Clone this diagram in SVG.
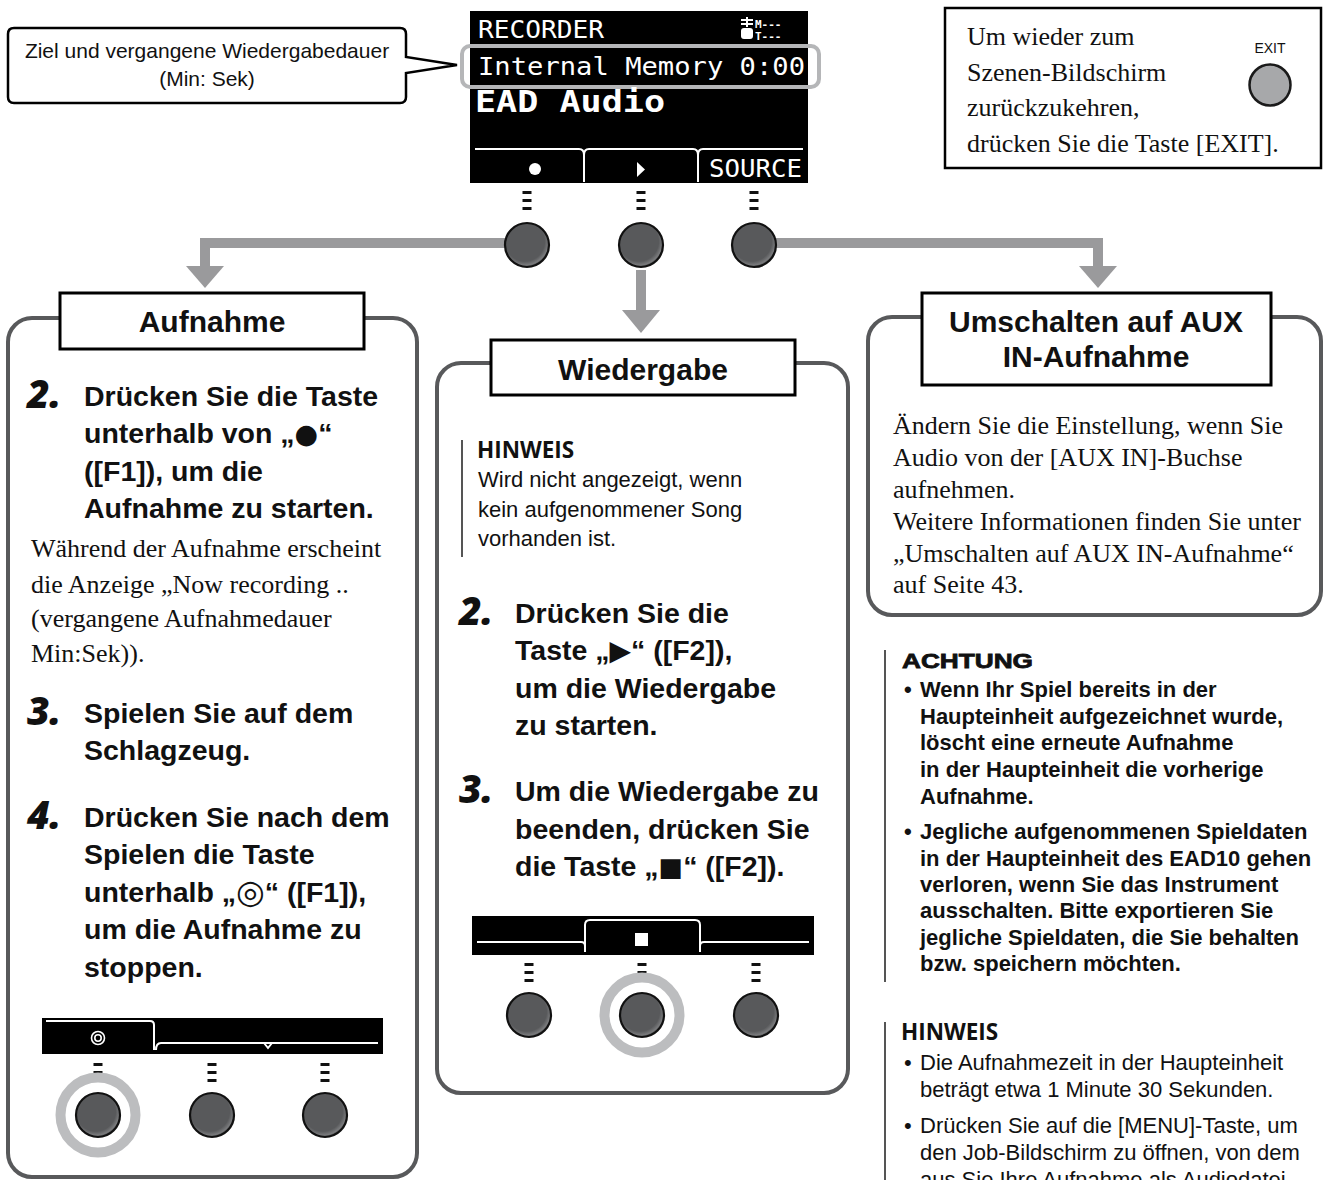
<svg xmlns="http://www.w3.org/2000/svg" xmlns:xlink="http://www.w3.org/1999/xlink" width="1325" height="1180" viewBox="0 0 1325 1180">
<defs>
<style>
.sans{font-family:"Liberation Sans",Arial,"DejaVu Sans",sans-serif;}
.serif{font-family:"Liberation Serif","Times New Roman",serif;font-size:26px;fill:#111;}
.head{font-family:"Liberation Sans",Arial,"DejaVu Sans",sans-serif;font-weight:bold;font-size:28.5px;fill:#111;}
.sym{font-family:"DejaVu Sans",sans-serif;}
.num{font-family:"Open Sans","Liberation Sans",sans-serif;font-weight:800;font-style:italic;font-size:39px;fill:#111;}
.title{font-family:"Liberation Sans",Arial,sans-serif;font-weight:bold;font-size:30px;fill:#111;text-anchor:middle;}
.note{font-family:"Liberation Sans",Arial,sans-serif;font-size:22px;fill:#111;}
.bnote{font-family:"Liberation Sans",Arial,sans-serif;font-size:22px;font-weight:bold;fill:#111;}
.hinw{font-family:"Open Sans","Liberation Sans",sans-serif;font-weight:bold;font-size:22.5px;fill:#111;}
.mono{font-family:"DejaVu Sans Mono","Liberation Mono",monospace;fill:#fff;}
.panel{fill:#fff;stroke:#58595b;stroke-width:4;}
.tbox{fill:#fff;stroke:#000;stroke-width:3;}
.conn{fill:none;stroke:#9a9a9c;stroke-width:10;}
.head-arrow{fill:#9a9a9c;}
.ring{fill:none;stroke:#bcbdbf;stroke-width:10;}
.bar{stroke:#555;stroke-width:2;}
.wl{fill:none;stroke:#fff;stroke-width:2;}
</style>
<radialGradient id="bg" cx="0.45" cy="0.42" r="0.6">
<stop offset="0.75" stop-color="#58595b"/>
<stop offset="0.9" stop-color="#7a7b7d"/>
<stop offset="1" stop-color="#2a2a2a"/>
</radialGradient>
<g id="btn">
<circle r="22" fill="url(#bg)" stroke="#111" stroke-width="2.2"/>
</g>
<g id="tick" fill="#111">
<rect x="-4.5" y="0" width="9" height="3"/>
<rect x="-4.5" y="8" width="9" height="3"/>
<rect x="-4.5" y="16" width="9" height="3"/>
</g>
</defs>
<rect width="1325" height="1180" fill="#fff"/>

<!-- connectors -->
<g id="connectors">
<polyline class="conn" points="505,243 205,243 205,270"/>
<polygon class="head-arrow" points="186,266 224,266 205,288"/>
<line class="conn" x1="641" y1="270" x2="641" y2="313"/>
<polygon class="head-arrow" points="622,310 660,310 641,333"/>
<polyline class="conn" points="776,243 1098,243 1098,270"/>
<polygon class="head-arrow" points="1079,266 1117,266 1098,288"/>
</g>

<!-- callout -->
<g id="callout">
<path d="M14,28 H400 Q406,28 406,34 V57 L457,65 L406,73 V97 Q406,103 400,103 H14 Q8,103 8,97 V34 Q8,28 14,28 Z" fill="#fff" stroke="#000" stroke-width="2.5"/>
<text class="sans" x="207" y="58" font-size="21" text-anchor="middle" fill="#111">Ziel und vergangene Wiedergabedauer</text>
<text class="sans" x="207" y="86" font-size="21" text-anchor="middle" fill="#111">(Min: Sek)</text>
</g>

<!-- main screen -->
<g id="screen">
<rect x="470" y="11" width="338" height="172" fill="#000"/>
<text class="mono" x="478" y="38" font-size="24" textLength="126" lengthAdjust="spacingAndGlyphs">RECORDER</text>
<g fill="#fff">
<rect x="741" y="19" width="12" height="2"/>
<rect x="741" y="23" width="12" height="2"/>
<rect x="746" y="17" width="2" height="10"/>
<rect x="741" y="28" width="12" height="11" rx="3"/>
</g>
<text class="mono" x="755" y="28" font-size="11" font-weight="bold">M---</text>
<text class="mono" x="755" y="40" font-size="11" font-weight="bold">T---</text>
<text class="mono" x="478" y="75" font-size="25" textLength="327" lengthAdjust="spacingAndGlyphs">Internal Memory 0:00</text>
<rect x="462" y="46" width="357" height="41" rx="8" fill="none" stroke="#b5b6b8" stroke-width="4"/>
<text class="mono" x="475" y="112" font-size="31" font-weight="bold" textLength="190" lengthAdjust="spacingAndGlyphs">EAD Audio</text>
<path class="wl" d="M475,149 H579 Q584,149 584,155 V182 M584,155 Q584,149 589,149 H693 Q698,149 698,155 V182 M698,155 Q698,149 703,149 H803"/>
<circle cx="535" cy="169" r="6" fill="#fff"/>
<polygon points="637,162 645,169.5 637,177" fill="#fff"/>
<text class="mono" x="709" y="177" font-size="25" textLength="93" lengthAdjust="spacingAndGlyphs">SOURCE</text>
</g>

<!-- main buttons -->
<g id="buttons">
<use xlink:href="#tick" x="527" y="191"/>
<use xlink:href="#tick" x="641" y="191"/>
<use xlink:href="#tick" x="754" y="191"/>
<use xlink:href="#btn" x="527" y="245"/>
<use xlink:href="#btn" x="641" y="245"/>
<use xlink:href="#btn" x="754" y="245"/>
</g>

<!-- exit box -->
<g id="exitbox">
<rect x="945" y="8" width="376" height="160" fill="#fff" stroke="#000" stroke-width="2.5"/>
<text class="serif" x="967" y="45">Um wieder zum</text>
<text class="serif" x="967" y="81">Szenen-Bildschirm</text>
<text class="serif" x="967" y="116">zurückzukehren,</text>
<text class="serif" x="967" y="152">drücken Sie die Taste [EXIT].</text>
<text class="sans" x="1270" y="53" font-size="14" text-anchor="middle" fill="#111">EXIT</text>
<circle cx="1270" cy="85" r="20.5" fill="#a7a8aa" stroke="#1a1a1a" stroke-width="2.5"/>
</g>

<!-- left panel -->
<g id="aufnahme">
<rect class="panel" x="8" y="318" width="409" height="859" rx="24"/>
<rect class="tbox" x="60" y="293" width="304" height="56"/>
<text class="title" x="212" y="332">Aufnahme</text>
<text class="num" x="27" y="408">2.</text>
<text class="head" x="84" y="406">Drücken Sie die Taste</text>
<text class="head" x="84" y="443">unterhalb von „<tspan class="sym" font-size="27" font-weight="normal">●</tspan>“</text>
<text class="head" x="84" y="481">([F1]), um die</text>
<text class="head" x="84" y="518">Aufnahme zu starten.</text>
<text class="serif" x="31" y="557">Während der Aufnahme erscheint</text>
<text class="serif" x="31" y="593">die Anzeige „Now recording ..</text>
<text class="serif" x="31" y="627">(vergangene Aufnahmedauer</text>
<text class="serif" x="31" y="662">Min:Sek)).</text>
<text class="num" x="27" y="725">3.</text>
<text class="head" x="84" y="723">Spielen Sie auf dem</text>
<text class="head" x="84" y="760">Schlagzeug.</text>
<text class="num" x="27" y="829">4.</text>
<text class="head" x="84" y="827">Drücken Sie nach dem</text>
<text class="head" x="84" y="864">Spielen die Taste</text>
<text class="head" x="84" y="902">unterhalb „<tspan class="sym" font-size="33" font-weight="normal" dy="1">◎</tspan><tspan dy="-1">“ ([F1]),</tspan></text>
<text class="head" x="84" y="939">um die Aufnahme zu</text>
<text class="head" x="84" y="977">stoppen.</text>
<rect x="42" y="1018" width="341" height="36" fill="#000"/>
<path class="wl" d="M46,1021 H150 Q154,1021 154,1025 V1050 M156,1050 Q156,1043 161,1043 H378 M264,1043 L268,1048 L272,1043"/>
<circle cx="98" cy="1038" r="6.5" fill="none" stroke="#fff" stroke-width="1.6"/>
<circle cx="98" cy="1038" r="3.2" fill="none" stroke="#fff" stroke-width="1.6"/>
<use xlink:href="#tick" x="98" y="1063"/>
<use xlink:href="#tick" x="212" y="1063"/>
<use xlink:href="#tick" x="325" y="1063"/>
<circle class="ring" cx="98" cy="1115" r="37.5"/>
<use xlink:href="#btn" x="98" y="1115"/>
<use xlink:href="#btn" x="212" y="1115"/>
<use xlink:href="#btn" x="325" y="1115"/>
</g>

<!-- middle panel -->
<g id="wiedergabe">
<rect class="panel" x="437" y="363" width="411" height="730" rx="24"/>
<rect class="tbox" x="491" y="340" width="304" height="55"/>
<text class="title" x="643" y="380">Wiedergabe</text>
<line class="bar" x1="462" y1="440" x2="462" y2="557"/>
<text class="hinw" x="477" y="458">HINWEIS</text>
<text class="note" x="478" y="487">Wird nicht angezeigt, wenn</text>
<text class="note" x="478" y="517">kein aufgenommener Song</text>
<text class="note" x="478" y="546">vorhanden ist.</text>
<text class="num" x="459" y="625">2.</text>
<text class="head" x="515" y="623">Drücken Sie die</text>
<text class="head" x="515" y="660">Taste „<tspan class="sym" font-size="28" font-weight="normal">▶</tspan>“ ([F2]),</text>
<text class="head" x="515" y="698">um die Wiedergabe</text>
<text class="head" x="515" y="735">zu starten.</text>
<text class="num" x="459" y="803">3.</text>
<text class="head" x="515" y="801">Um die Wiedergabe zu</text>
<text class="head" x="515" y="839">beenden, drücken Sie</text>
<text class="head" x="515" y="876">die Taste „<tspan class="sym" font-size="26" font-weight="normal">■</tspan>“ ([F2]).</text>
<rect x="472" y="916" width="342" height="39" fill="#000"/>
<path class="wl" d="M477,942 H581 Q585,942 585,946 V952 M585,946 V925 Q585,920 590,920 H695 Q700,920 700,925 V952 M700,946 Q700,942 704,942 H809"/>
<rect x="635" y="933" width="13" height="13" fill="#fff"/>
<use xlink:href="#tick" x="529" y="963"/>
<use xlink:href="#tick" x="642" y="963"/>
<use xlink:href="#tick" x="756" y="963"/>
<circle class="ring" cx="642" cy="1015" r="37.5"/>
<use xlink:href="#btn" x="529" y="1015"/>
<use xlink:href="#btn" x="642" y="1015"/>
<use xlink:href="#btn" x="756" y="1015"/>
</g>

<!-- right panel -->
<g id="aux">
<rect class="panel" x="868" y="317" width="453" height="298" rx="24"/>
<rect class="tbox" x="922" y="293" width="349" height="92"/>
<text class="title" x="1096" y="332">Umschalten auf AUX</text>
<text class="title" x="1096" y="367">IN-Aufnahme</text>
<text class="serif" x="893" y="434">Ändern Sie die Einstellung, wenn Sie</text>
<text class="serif" x="893" y="466">Audio von der [AUX IN]-Buchse</text>
<text class="serif" x="893" y="498">aufnehmen.</text>
<text class="serif" x="893" y="530">Weitere Informationen finden Sie unter</text>
<text class="serif" x="893" y="562">„Umschalten auf AUX IN-Aufnahme“</text>
<text class="serif" x="893" y="593">auf Seite 43.</text>
</g>

<!-- achtung -->
<g id="achtung">
<line class="bar" x1="885" y1="650" x2="885" y2="982"/>
<text class="sans" x="902" y="668" font-size="21" font-weight="bold" fill="#111" stroke="#111" stroke-width="0.8" textLength="131" lengthAdjust="spacingAndGlyphs">ACHTUNG</text>
<text class="bnote" x="904" y="697">•</text>
<text class="bnote" x="920" y="697">Wenn Ihr Spiel bereits in der</text>
<text class="bnote" x="920" y="724">Haupteinheit aufgezeichnet wurde,</text>
<text class="bnote" x="920" y="750">löscht eine erneute Aufnahme</text>
<text class="bnote" x="920" y="777">in der Haupteinheit die vorherige</text>
<text class="bnote" x="920" y="804">Aufnahme.</text>
<text class="bnote" x="904" y="839">•</text>
<text class="bnote" x="920" y="839">Jegliche aufgenommenen Spieldaten</text>
<text class="bnote" x="920" y="866">in der Haupteinheit des EAD10 gehen</text>
<text class="bnote" x="920" y="892">verloren, wenn Sie das Instrument</text>
<text class="bnote" x="920" y="918">ausschalten. Bitte exportieren Sie</text>
<text class="bnote" x="920" y="945">jegliche Spieldaten, die Sie behalten</text>
<text class="bnote" x="920" y="971">bzw. speichern möchten.</text>
</g>

<!-- hinweis right -->
<g id="hinweis">
<line class="bar" x1="885" y1="1022" x2="885" y2="1180"/>
<text class="hinw" x="901" y="1040">HINWEIS</text>
<text class="note" x="904" y="1070">•</text>
<text class="note" x="920" y="1070">Die Aufnahmezeit in der Haupteinheit</text>
<text class="note" x="920" y="1097">beträgt etwa 1 Minute 30 Sekunden.</text>
<text class="note" x="904" y="1133">•</text>
<text class="note" x="920" y="1133">Drücken Sie auf die [MENU]-Taste, um</text>
<text class="note" x="920" y="1160">den Job-Bildschirm zu öffnen, von dem</text>
<text class="note" x="920" y="1187">aus Sie Ihre Aufnahme als Audiodatei</text>
</g>
</svg>
